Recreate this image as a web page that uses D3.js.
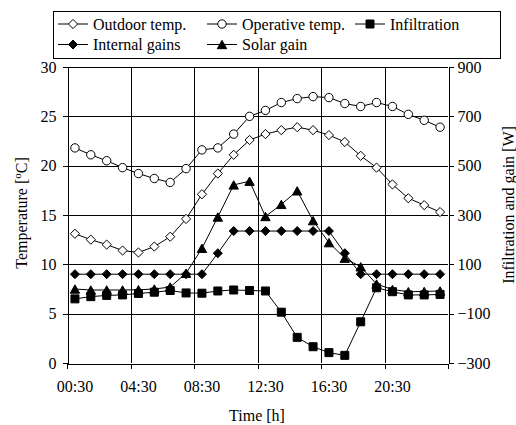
<!DOCTYPE html>
<html>
<head>
<meta charset="utf-8">
<script src="https://cdn.jsdelivr.net/npm/d3@7"></script>
<style>
  body { margin: 0; background: #fff; }
  svg { display: block; }
</style>
</head>
<body>
<svg id="chart" width="516" height="425"></svg>
<script>
// hourly categories
const hours = ['00:30','01:30','02:30','03:30','04:30','05:30','06:30','07:30','08:30','09:30','10:30','11:30',
  '12:30','13:30','14:30','15:30','16:30','17:30','18:30','19:30','20:30','21:30','22:30','23:30']
const hourLabels = ['00:30','04:30','08:30','12:30','16:30','20:30']

// left axis [oC]
const outdoorTemp = [13.1, 12.5, 12.0, 11.4, 11.2, 11.8, 12.8, 14.6, 17.1, 19.2, 21.1, 22.6,
  23.2, 23.6, 23.9, 23.6, 23.1, 22.4, 21.0, 19.8, 18.1, 16.7, 16.0, 15.3]
const operativeTemp = [21.8, 21.1, 20.5, 19.8, 19.2, 18.7, 18.3, 19.7, 21.6, 21.8, 23.2, 25.0,
  25.6, 26.4, 26.8, 27.0, 26.9, 26.3, 26.0, 26.4, 26.0, 25.2, 24.6, 23.9]

// right axis [W]
const infiltration = [-40, -31, -26, -24, -18, -13, -6, -16, -17, -8, -4, -6,
  -8, -94, -196, -234, -258, -269, -133, 5, -11, -24, -24, -22]
const internalGains = [60, 60, 60, 60, 60, 60, 60, 60, 60, 145, 235, 235,
  235, 235, 235, 235, 235, 145, 60, 60, 60, 60, 60, 60]
const solarGain = [0, -4, -4, -4, -3, 0, 8, 64, 165, 292, 422, 437,
  294, 343, 398, 277, 188, 125, 90, 20, -2, -11, -10, -8]

const tempTicks = [0, 5, 10, 15, 20, 25, 30]
const wattTicks = [-300, -100, 100, 300, 500, 700, 900]

const plotL = 67, plotR = 448, plotT = 67, plotB = 363
const font = '"Liberation Serif"'

const svg = d3.select('#chart')

const x = d3.scaleBand()
  .domain(hours)
  .range([plotL, plotR])
  .padding(0)
const xEdge = d3.scaleLinear()
  .domain([0, hours.length])
  .range([plotL, plotR])
const yL = d3.scaleLinear()
  .domain([0, 30])
  .range([plotB, plotT])
const yR = d3.scaleLinear()
  .domain([-300, 900])
  .range([plotB, plotT])

const cx = d => x(d) + x.bandwidth() / 2

// markers
const diamond = { draw (ctx, s) { ctx.moveTo(0, -s); ctx.lineTo(s, 0); ctx.lineTo(0, s); ctx.lineTo(-s, 0); ctx.closePath() } }
const square = { draw (ctx, s) { ctx.rect(-s, -s, 2 * s, 2 * s) } }
const circle = { draw (ctx, s) { ctx.moveTo(s, 0); ctx.arc(0, 0, s, 0, 2 * Math.PI) } }
const triangle = { draw (ctx, s) { ctx.moveTo(0, -s); ctx.lineTo(s + 0.5, s); ctx.lineTo(-s - 0.5, s); ctx.closePath() } }

const series = [
  { name: 'Outdoor temp.', values: outdoorTemp, y: yL, shape: diamond, size: 4.6, fill: '#fff' },
  { name: 'Operative temp.', values: operativeTemp, y: yL, shape: circle, size: 4.2, fill: '#fff' },
  { name: 'Infiltration', values: infiltration, y: yR, shape: square, size: 4, fill: '#000' },
  { name: 'Internal gains', values: internalGains, y: yR, shape: diamond, size: 4.5, fill: '#000' },
  { name: 'Solar gain', values: solarGain, y: yR, shape: triangle, size: 4.2, fill: '#000' }
]

// grid
svg.append('g')
  .selectAll('line')
  .data(tempTicks.slice(1))
  .enter()
  .append('line')
  .attr('x1', plotL).attr('x2', plotR)
  .attr('y1', d => Math.round(yL(d)) + 0.5).attr('y2', d => Math.round(yL(d)) + 0.5)
  .attr('stroke', '#000')
svg.append('g')
  .selectAll('line')
  .data([4, 8, 12, 16, 20])
  .enter()
  .append('line')
  .attr('y1', plotT).attr('y2', plotB)
  .attr('x1', d => Math.round(xEdge(d)) + 0.5).attr('x2', d => Math.round(xEdge(d)) + 0.5)
  .attr('stroke', '#000')

// axes
svg.append('g')
  .attr('transform', `translate(${plotL + 0.5},0)`)
  .call(d3.axisLeft(yL).tickValues(tempTicks).tickSize(5).tickPadding(6).tickSizeOuter(0))
svg.append('g')
  .attr('transform', `translate(${plotR + 0.5},0)`)
  .call(d3.axisRight(yR).tickValues(wattTicks).tickSize(5).tickPadding(4).tickSizeOuter(0))
svg.append('g')
  .attr('transform', `translate(0,${plotB + 0.5})`)
  .call(d3.axisBottom(xEdge).tickValues([0, 4, 8, 12, 16, 20, 24]).tickFormat('').tickSize(5).tickSizeOuter(0))
const labelAxis = svg.append('g')
  .attr('transform', `translate(0,${plotB})`)
  .call(d3.axisBottom(x).tickValues(hourLabels).tickSize(0).tickPadding(18))
labelAxis.select('.domain').remove()

svg.selectAll('.domain, .tick line')
  .attr('stroke', '#000')
  .attr('shape-rendering', 'crispEdges')

// lines and markers
series.forEach(s => {
  const line = d3.line()
    .x((d, i) => cx(hours[i]))
    .y(d => s.y(d))
  svg.append('path')
    .datum(s.values)
    .attr('d', line)
    .attr('fill', 'none')
    .attr('stroke', '#000')
    .attr('stroke-width', 1)
  svg.append('g')
    .selectAll('path')
    .data(s.values)
    .enter()
    .append('path')
    .attr('transform', (d, i) => `translate(${cx(hours[i])},${s.y(d)})`)
    .attr('d', d3.symbol().type(s.shape).size(s.size))
    .attr('fill', s.fill)
    .attr('stroke', '#000')
    .attr('stroke-width', 1)
})

// titles
svg.append('text')
  .attr('transform', 'translate(21,213) rotate(-90)')
  .attr('text-anchor', 'middle')
  .attr('dy', '0.35em')
  .html('Temperature [<tspan dy="-6" font-size="11">o</tspan><tspan dy="6">C]</tspan>')
svg.append('text')
  .attr('transform', 'translate(508,205) rotate(-90)')
  .attr('text-anchor', 'middle')
  .attr('dy', '0.35em')
  .text('Infiltration and gain [W]')
svg.append('text')
  .attr('x', 257)
  .attr('y', 421)
  .attr('text-anchor', 'middle')
  .text('Time [h]')

// legend
const legend = svg.append('g')
legend.append('rect')
  .attr('x', 53.5).attr('y', 11.5)
  .attr('width', 447).attr('height', 47)
  .attr('fill', '#fff')
  .attr('stroke', '#000')
const legendPos = [[58, 24], [207, 24], [355, 24], [58, 44.5], [207, 44.5]]
series.forEach((s, i) => {
  const [lx, ly] = legendPos[i]
  const g = legend.append('g').attr('transform', `translate(${lx},${ly})`)
  g.append('line')
    .attr('x1', 0).attr('x2', 30)
    .attr('stroke', '#000')
  g.append('path')
    .attr('transform', 'translate(15,0)')
    .attr('d', d3.symbol().type(s.shape).size(s.size))
    .attr('fill', s.fill)
    .attr('stroke', '#000')
  g.append('text')
    .attr('x', 35)
    .attr('y', 5.5)
    .text(s.name)
})

// one font for every text
svg.selectAll('text')
  .style('font-family', font)
  .style('font-size', '16px')
  .style('fill', '#000')
</script>
</body>
</html>
